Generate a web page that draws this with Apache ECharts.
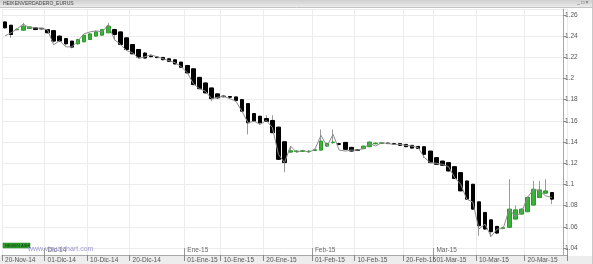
<!DOCTYPE html>
<html><head><meta charset="utf-8">
<script src="https://cdn.jsdelivr.net/npm/echarts@6/dist/echarts.min.js"></script>
<style>html,body{margin:0;padding:0;background:#fff}#c{width:593px;height:264px}</style>
</head><body><div id="c"></div>
<script>
// Trading-day categories (last two are empty future slots)
const dates = [
'20-Nov-14','21-Nov-14','24-Nov-14','25-Nov-14','26-Nov-14','27-Nov-14','28-Nov-14',
'01-Dic-14','02-Dic-14','03-Dic-14','04-Dic-14','05-Dic-14','08-Dic-14','09-Dic-14','10-Dic-14','11-Dic-14','12-Dic-14',
'15-Dic-14','16-Dic-14','17-Dic-14','18-Dic-14','19-Dic-14','22-Dic-14','23-Dic-14','24-Dic-14','25-Dic-14','26-Dic-14',
'29-Dic-14','30-Dic-14','31-Dic-14',
'01-Ene-15','02-Ene-15','05-Ene-15','06-Ene-15','07-Ene-15','08-Ene-15','09-Ene-15','12-Ene-15','13-Ene-15','14-Ene-15',
'15-Ene-15','16-Ene-15','19-Ene-15','20-Ene-15','21-Ene-15','22-Ene-15','23-Ene-15','26-Ene-15','27-Ene-15','28-Ene-15',
'29-Ene-15','30-Ene-15',
'02-Feb-15','03-Feb-15','04-Feb-15','05-Feb-15','06-Feb-15','09-Feb-15','10-Feb-15','11-Feb-15','12-Feb-15','13-Feb-15',
'16-Feb-15','17-Feb-15','18-Feb-15','19-Feb-15','20-Feb-15','23-Feb-15','24-Feb-15','25-Feb-15','26-Feb-15','27-Feb-15',
'02-Mar-15','03-Mar-15','04-Mar-15','05-Mar-15','06-Mar-15','09-Mar-15','10-Mar-15','11-Mar-15','12-Mar-15','13-Mar-15',
'16-Mar-15','17-Mar-15','18-Mar-15','19-Mar-15','20-Mar-15','23-Mar-15','24-Mar-15','25-Mar-15','26-Mar-15',
'27-Mar-15','30-Mar-15'];

// Heikin-Ashi candles
const haOpen = [
1.2534,1.2503,1.2460,1.2456,1.2471,1.2478,1.2474,1.2462,1.2452,1.2400,
1.2377,1.2353,1.2327,1.2346,1.2368,1.2400,1.2409,1.2431,1.2462,1.2440,
1.2384,1.2321,1.2274,1.2240,1.2212,1.2203,1.2199,1.2186,1.2177,1.2155,
1.2123,1.2092,1.2011,1.1958,1.1911,1.1855,1.1834,1.1830,1.1826,1.1801,
1.1763,1.1669,1.1644,1.1622,1.1604,1.1541,1.1403,1.1305,1.1310,1.1312,
1.1310,1.1320,1.1324,1.1362,1.1394,1.1385,1.1397,1.1350,1.1326,1.1338,
1.1356,1.1384,1.1387,1.1390,1.1385,1.1385,1.1378,1.1369,1.1359,1.1356,
1.1315,1.1253,1.1221,1.1206,1.1168,1.1112,1.1033,1.1002,1.0836,1.0736,
1.0666,1.0604,1.0585,1.0595,1.0673,1.0720,1.0742,1.0805,1.0877,1.0917,
1.0924];
const haClose = [
1.2478,1.2415,1.2466,1.2494,1.2487,1.2462,1.2468,1.2431,1.2353,1.2353,
1.2327,1.2296,1.2368,1.2409,1.2421,1.2440,1.2462,1.2494,1.2415,1.2321,
1.2274,1.2233,1.2202,1.2193,1.2206,1.2197,1.2177,1.2161,1.2137,1.2105,
1.2052,1.1942,1.1904,1.1864,1.1810,1.1817,1.1828,1.1823,1.1792,1.1691,
1.1582,1.1597,1.1582,1.1594,1.1488,1.1237,1.1206,1.1318,1.1316,1.1318,
1.1315,1.1328,1.1409,1.1387,1.1400,1.1378,1.1331,1.1315,1.1322,1.1362,
1.1400,1.1390,1.1393,1.1386,1.1380,1.1369,1.1356,1.1343,1.1340,1.1284,
1.1206,1.1190,1.1181,1.1127,1.1056,1.0939,1.0861,1.0767,1.0610,1.0579,
1.0554,1.0541,1.0592,1.0767,1.0760,1.0767,1.0877,1.0955,1.0948,1.0939,
1.0861];
const haLow = [
1.2470,1.2384,1.2455,1.2450,1.2468,1.2458,1.2462,1.2428,1.2340,1.2345,
1.2310,1.2285,1.2320,1.2340,1.2365,1.2395,1.2405,1.2428,1.2360,1.2315,
1.2260,1.2228,1.2185,1.2188,1.2200,1.2192,1.2172,1.2158,1.2135,1.2100,
1.2048,1.1938,1.1898,1.1860,1.1785,1.1805,1.1820,1.1805,1.1782,1.1685,
1.1472,1.1590,1.1562,1.1590,1.1485,1.1230,1.1115,1.1300,1.1300,1.1305,
1.1300,1.1315,1.1320,1.1355,1.1385,1.1370,1.1325,1.1310,1.1315,1.1334,
1.1352,1.1378,1.1382,1.1380,1.1375,1.1365,1.1352,1.1340,1.1336,1.1250,
1.1200,1.1185,1.1178,1.1122,1.1050,1.0935,1.0855,1.0760,1.0516,1.0570,
1.0504,1.0530,1.0575,1.0590,1.0668,1.0715,1.0738,1.0800,1.0872,1.0910,
1.0814];
const haHigh = [
1.2540,1.2506,1.2470,1.2525,1.2492,1.2482,1.2478,1.2466,1.2455,1.2410,
1.2380,1.2356,1.2375,1.2415,1.2430,1.2450,1.2468,1.2525,1.2470,1.2445,
1.2388,1.2325,1.2278,1.2250,1.2230,1.2210,1.2203,1.2190,1.2180,1.2158,
1.2126,1.2095,1.2015,1.1962,1.1915,1.1858,1.1845,1.1835,1.1830,1.1805,
1.1766,1.1672,1.1648,1.1653,1.1653,1.1545,1.1406,1.1362,1.1322,1.1325,
1.1320,1.1335,1.1519,1.1395,1.1519,1.1392,1.1400,1.1355,1.1332,1.1366,
1.1405,1.1396,1.1400,1.1395,1.1390,1.1390,1.1380,1.1372,1.1362,1.1360,
1.1318,1.1256,1.1224,1.1209,1.1170,1.1115,1.1036,1.1005,1.0840,1.0740,
1.0670,1.0607,1.0600,1.1049,1.0800,1.0775,1.0885,1.1033,1.1033,1.1049,
1.0928];
// Real close line
const closeLine = [
1.2403,1.2431,1.2468,1.2515,1.2478,1.2478,1.2473,1.2459,1.2318,1.2356,
1.2299,1.2299,1.2356,1.2421,1.2440,1.2450,1.2440,1.2509,1.2368,1.2321,
1.2264,1.2243,1.2189,1.2205,1.2224,1.2205,1.2186,1.2168,1.2149,1.2111,
1.2055,1.1951,1.1904,1.1879,1.1810,1.1823,1.1832,1.1810,1.1785,1.1691,
1.1582,1.1597,1.1566,1.1604,1.1538,1.1284,1.1206,1.1362,1.1303,1.1324,
1.1303,1.1331,1.1463,1.1362,1.1472,1.1324,1.1315,1.1324,1.1324,1.1338,
1.1387,1.1362,1.1394,1.1387,1.1378,1.1378,1.1369,1.1362,1.1347,1.1256,
1.1206,1.1199,1.1190,1.1168,1.1065,1.1002,1.0861,1.0833,1.0579,1.0626,
1.0510,1.0579,1.0586,1.0767,1.0698,1.0736,1.0877,1.0955,1.0939,1.0892,
1.0877];
const dayLabels = {0:'20-Nov-14',7:'01-Dic-14',14:'10-Dic-14',21:'20-Dic-14',30:'01-Ene-15',36:'10-Ene-15',
  43:'20-Ene-15',51:'01-Feb-15',58:'10-Feb-15',66:'20-Feb-15',71:'01-Mar-15',78:'10-Mar-15',86:'20-Mar-15'};
const monthLabels = {7:'Dic-14',30:'Ene-15',51:'Feb-15',71:'Mar-15'};
const lastPrice = 1.0858;
const title = 'HEIKENVERDADERO_EURUS';

const wickData = haOpen.map((o,i)=>[o,haClose[i],haLow[i],haHigh[i]]);
const bodyData = haOpen.map((o,i)=>[o,haClose[i],Math.min(o,haClose[i]),Math.max(o,haClose[i])]);
const FONT = 'Liberation Sans';

const chart = echarts.init(document.getElementById('c'), null, {renderer:'canvas'});
chart.setOption({
  animation:false,
  backgroundColor:'#ffffff',
  grid:{left:2, width:565, top:9, bottom:8, containLabel:false},
  xAxis:[{
    type:'category', data:dates, boundaryGap:true,
    axisLine:{show:true, lineStyle:{color:'#a8a8a8', width:1}},
    axisTick:{show:true, length:6, interval:(i)=>dayLabels[i]!==undefined, lineStyle:{color:'#888'}},
    axisLabel:{show:true, interval:0, formatter:(v,i)=>dayLabels[i]||'', align:'left', margin:2,
      fontSize:6.5, color:'#555', fontFamily:FONT},
    splitLine:{show:true, interval:(i)=>dayLabels[i]!==undefined, lineStyle:{color:'#ececec', width:1}}
  },{
    type:'category', data:dates, boundaryGap:true, position:'bottom', offset:-7, gridIndex:0,
    axisLine:{show:false},
    axisTick:{show:true, length:7, interval:(i)=>monthLabels[i]!==undefined, lineStyle:{color:'#999'}},
    axisLabel:{show:true, interval:0, formatter:(v,i)=>monthLabels[i]||'', align:'left', margin:-1,
      fontSize:6.5, color:'#666', fontFamily:FONT},
    splitLine:{show:false}
  }],
  yAxis:{
    type:'value', position:'right', offset:-4, min:1.0334, max:1.2656, splitNumber:10, scale:true,
    axisLine:{show:true, lineStyle:{color:'#a8a8a8'}},
    axisTick:{show:true, length:3, lineStyle:{color:'#888'}},
    axisLabel:{show:true, showMinLabel:false, showMaxLabel:false, margin:2, fontSize:6.5, color:'#555', fontFamily:FONT},
    splitLine:{show:true, lineStyle:{color:'#ececec', width:1}}
  },
  series:[{
    type:'candlestick', name:'wick', data:wickData, barWidth:1, z:2,
    itemStyle:{color:'#9a9a9a', color0:'#9a9a9a', borderColor:'#9a9a9a', borderColor0:'#9a9a9a', borderWidth:1}
  },{
    type:'candlestick', name:'body', data:bodyData, barWidth:4, z:3,
    itemStyle:{color:'#35b435', color0:'#000000', borderColor:'#2a9a2a', borderColor0:'#000000', borderWidth:1}
  },{
    type:'line', name:'close', data:closeLine, showSymbol:false, symbol:'none', z:4,
    lineStyle:{color:'#8c8c8c', width:1},
    markLine:{silent:true, symbol:'none', lineStyle:{opacity:0},
      data:[{yAxis:lastPrice}],
      label:{show:true, position:'end', distance:0, formatter:String(lastPrice), backgroundColor:'#f07040',
        color:'#ffffff', fontSize:6, fontFamily:FONT, padding:[1,2,1,2], borderColor:'#d05020', borderWidth:1}}
  }],
  graphic:[
    {type:'rect', z:100, shape:{x:0,y:0,width:593,height:7},
      style:{fill:new echarts.graphic.LinearGradient(0,0,0,1,[{offset:0,color:'#cfcfcf'},{offset:1,color:'#ebebeb'}]), stroke:null}},
    {type:'line', z:100, shape:{x1:0,y1:7.5,x2:593,y2:7.5}, style:{stroke:'#c4c4c4', lineWidth:1}},
    {type:'text', z:101, left:3, top:1, style:{text:title, fontSize:5, fill:'#444', fontFamily:FONT}},
    {type:'text', z:101, left:577, top:0, style:{text:'_ □ ×', fontSize:5, fill:'#555', fontFamily:FONT}},
    {type:'rect', z:-10, shape:{x:0,y:256,width:593,height:8}, style:{fill:'#ededed'}},
    {type:'rect', z:5, shape:{x:3,y:243,width:27,height:5}, style:{fill:'#2e9e2e', stroke:'#1e7e1e', lineWidth:0.5}},
    {type:'text', z:6, left:5, top:243.5, style:{text:'HEIKEN ASHI', fontSize:4, fill:'#0b3b0b', fontFamily:FONT}},
    {type:'text', z:5, left:28, top:246, style:{text:'www.visualchart.com', fontSize:7, fill:'#9a9ad4', fontFamily:FONT}},
    {type:'line', z:100, shape:{x1:592.5,y1:0,x2:592.5,y2:264}, style:{stroke:'#c8c8c8', lineWidth:1}}
  ]
});
</script></body></html>
